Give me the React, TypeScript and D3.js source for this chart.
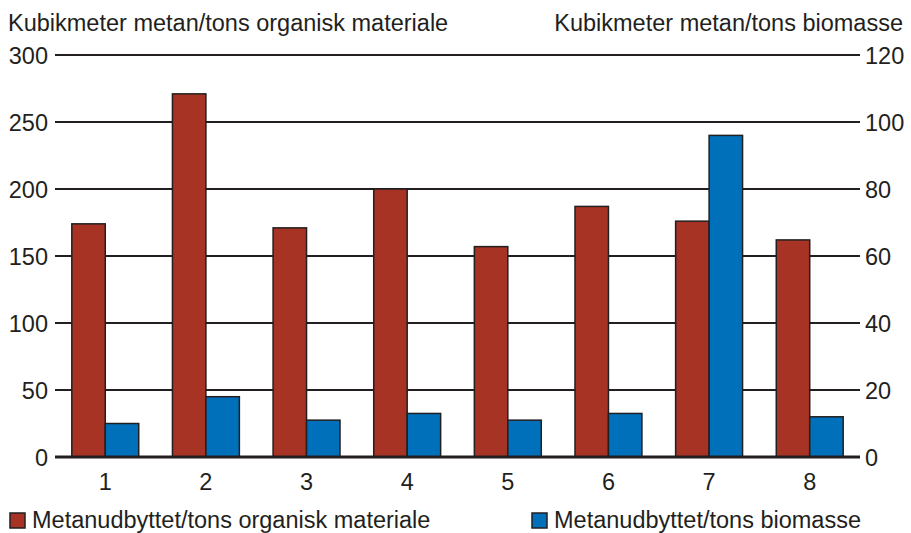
import React, { useEffect, useRef } from "react";
import * as d3 from "d3";

const categories = ["1", "2", "3", "4", "5", "6", "7", "8"];
const organicValues = [174, 271, 171, 200, 157, 187, 176, 162];
const biomassValues = [10, 18, 11, 13, 11, 13, 96, 12];
const leftTicks = [0, 50, 100, 150, 200, 250, 300];
const rightTicks = [0, 20, 40, 60, 80, 100, 120];
const leftTitle = "Kubikmeter metan/tons organisk materiale";
const rightTitle = "Kubikmeter metan/tons biomasse";
const legendLabels = ["Metanudbyttet/tons organisk materiale", "Metanudbyttet/tons biomasse"];

const colors = ["#a63323", "#0070ba"];
const ink = "#231f20";
const font = "'Liberation Sans', Arial, sans-serif";
const fs = 23.5;

export default function App() {
  const svgRef = useRef<SVGSVGElement>(null);

  useEffect(() => {
    const w = 911;
    const h = 533;
    const svg = d3.select(svgRef.current);
    svg.selectAll("*").remove();
    svg.attr("width", w).attr("height", h);

    const left = 55;
    const right = 860;
    const top = 55;
    const bottom = 457;

    // scales
    const x = d3.scaleBand().domain(categories).range([left, right]).paddingInner(0.335).paddingOuter(0.167);
    const yL = d3.scaleLinear().domain([0, 300]).range([bottom, top]);
    const yR = d3.scaleLinear().domain([0, 120]).range([bottom, top]);

    // gridlines
    svg
      .append("g")
      .selectAll("line")
      .data(leftTicks.filter((d) => d > 0))
      .enter()
      .append("line")
      .attr("x1", left)
      .attr("x2", right)
      .attr("y1", (d) => yL(d))
      .attr("y2", (d) => yL(d))
      .attr("stroke", ink)
      .attr("stroke-width", 2);

    // left labels
    svg
      .append("g")
      .selectAll("text")
      .data(leftTicks)
      .enter()
      .append("text")
      .attr("x", 48)
      .attr("y", (d) => yL(d) + 8.5)
      .attr("text-anchor", "end")
      .attr("font-family", font)
      .attr("font-size", fs)
      .attr("fill", ink)
      .text((d) => d);

    // right labels
    svg
      .append("g")
      .selectAll("text")
      .data(rightTicks)
      .enter()
      .append("text")
      .attr("x", 865)
      .attr("y", (d) => yR(d) + 8.5)
      .attr("text-anchor", "start")
      .attr("font-family", font)
      .attr("font-size", fs)
      .attr("fill", ink)
      .text((d) => d);

    const bw = x.bandwidth() / 2;

    // bars
    svg
      .append("g")
      .selectAll("rect")
      .data(organicValues)
      .enter()
      .append("rect")
      .attr("x", (d, i) => x(categories[i])!)
      .attr("y", (d) => yL(d))
      .attr("width", bw)
      .attr("height", (d) => bottom - yL(d))
      .attr("fill", colors[0])
      .attr("stroke", ink)
      .attr("stroke-width", 1.5);

    svg
      .append("g")
      .selectAll("rect")
      .data(biomassValues)
      .enter()
      .append("rect")
      .attr("x", (d, i) => x(categories[i])! + bw)
      .attr("y", (d) => yR(d))
      .attr("width", bw)
      .attr("height", (d) => bottom - yR(d))
      .attr("fill", colors[1])
      .attr("stroke", ink)
      .attr("stroke-width", 1.5);

    // baseline
    svg
      .append("line")
      .attr("x1", left)
      .attr("x2", right)
      .attr("y1", bottom)
      .attr("y2", bottom)
      .attr("stroke", ink)
      .attr("stroke-width", 3);

    // category labels
    svg
      .append("g")
      .selectAll("text")
      .data(categories)
      .enter()
      .append("text")
      .attr("x", (d) => x(d)! + x.bandwidth() / 2)
      .attr("y", 490)
      .attr("text-anchor", "middle")
      .attr("font-family", font)
      .attr("font-size", fs)
      .attr("fill", ink)
      .text((d) => d);

    // titles
    svg
      .append("text")
      .attr("x", 8)
      .attr("y", 31)
      .attr("font-family", font)
      .attr("font-size", fs)
      .attr("fill", ink)
      .text(leftTitle);
    svg
      .append("text")
      .attr("x", 903)
      .attr("y", 31)
      .attr("text-anchor", "end")
      .attr("font-family", font)
      .attr("font-size", fs)
      .attr("fill", ink)
      .text(rightTitle);

    // legend
    const legendX = [10, 532];
    const lg = svg
      .append("g")
      .selectAll("g")
      .data(legendLabels)
      .enter()
      .append("g")
      .attr("transform", (d, i) => `translate(${legendX[i]}, 0)`);
    lg.append("rect")
      .attr("x", 0)
      .attr("y", 513)
      .attr("width", 15)
      .attr("height", 15)
      .attr("fill", (d, i) => colors[i])
      .attr("stroke", ink)
      .attr("stroke-width", 1.5);
    lg.append("text")
      .attr("x", 22)
      .attr("y", 528)
      .attr("font-family", font)
      .attr("font-size", fs)
      .attr("fill", ink)
      .text((d) => d);
  }, []);

  return (
    <div style={{ position: "absolute", left: 0, top: 0 }}>
      <svg ref={svgRef}></svg>
    </div>
  );
}
